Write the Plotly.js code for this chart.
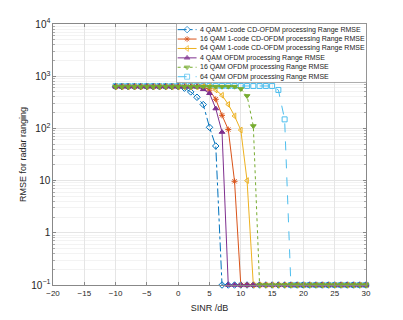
<!DOCTYPE html>
<html>
<head>
<meta charset="utf-8">
<script src="https://cdn.plot.ly/plotly-3.0.1.min.js"></script>
<style>
  html, body { margin: 0; padding: 0; background: #fff; }
  #chart { width: 403px; height: 320px; }
</style>
</head>
<body>
<div id="chart"></div>
<script>
// SINR axis, -10 .. 30 dB in 1 dB steps
var sinr = [];
for (var s = -10; s <= 30; s++) sinr.push(s);

var names = [
  '4 QAM 1-code CD-OFDM processing Range RMSE',
  '16 QAM 1-code CD-OFDM processing Range RMSE',
  '64 QAM 1-code CD-OFDM processing Range RMSE',
  '4 QAM OFDM processing Range RMSE',
  '16 QAM OFDM processing Range RMSE',
  '64 QAM OFDM processing Range RMSE'
];
var colors = ['#0072BD', '#D95319', '#EDB120', '#7E2F8E', '#77AC30', '#4DBEEE'];
var dashes = ['dashdot', 'solid', 'solid', 'solid', 'dot', 'dash'];
var symbols = ['diamond-open', 'asterisk-open', 'triangle-left-open', 'triangle-up', 'triangle-down', 'square-open'];

// values; 0.1 is the floor of the plot
var qam4cd  = [630,630,630,630,630,630,630,630,630,630,630, 590,500,395,286,105,46,
               0.1,0.1,0.1,0.1,0.1,0.1,0.1,0.1,0.1,0.1,0.1,0.1,0.1,0.1,0.1,0.1,0.1,0.1,0.1,0.1,0.1,0.1,0.1,0.1];
var qam16cd = [630,630,630,630,630,630,630,630,630,630,630,630,630,630,630, 540,361,178,95,9.7,
               0.1,0.1,0.1,0.1,0.1,0.1,0.1,0.1,0.1,0.1,0.1,0.1,0.1,0.1,0.1,0.1,0.1,0.1,0.1,0.1,0.1];
var qam64cd = [630,630,630,630,630,630,630,630,630,630,630,630,630,630,630,630, 545,431,288,173,93,10,
               0.1,0.1,0.1,0.1,0.1,0.1,0.1,0.1,0.1,0.1,0.1,0.1,0.1,0.1,0.1,0.1,0.1,0.1,0.1];
var qam4of  = [630,630,630,630,630,630,630,630,630,630,630,630,630,630, 560,471,240,85,
               0.1,0.1,0.1,0.1,0.1,0.1,0.1,0.1,0.1,0.1,0.1,0.1,0.1,0.1,0.1,0.1,0.1,0.1,0.1,0.1,0.1,0.1,0.1];
var qam16of = [630,630,630,630,630,630,630,630,630,630,630,630,630,630,630,630,630,630,630,630, 570,419,111,
               0.1,0.1,0.1,0.1,0.1,0.1,0.1,0.1,0.1,0.1,0.1,0.1,0.1,0.1,0.1,0.1,0.1,0.1];
var qam64of = [650,650,650,650,650,650,650,650,650,650,650,650,650,650,650,650,650,650,650,650,650,650,650,650,650,650, 545,149,
               0.1,0.1,0.1,0.1,0.1,0.1,0.1,0.1,0.1,0.1,0.1,0.1,0.1];
var series = [qam4cd, qam16cd, qam64cd, qam4of, qam16of, qam64of];

function tr(i) {
  return {
    x: sinr, y: series[i], name: names[i], type: 'scatter', mode: 'lines+markers',
    cliponaxis: false, showlegend: false,
    line: { color: colors[i], width: 1, dash: dashes[i] },
    marker: { symbol: symbols[i], size: 5, color: colors[i], line: { color: colors[i], width: 1 } }
  };
}

// draw order: light blue underneath, green on top (as in the picture)
var data = [tr(5), tr(0), tr(1), tr(2), tr(3), tr(4)];

// compact legend (Plotly's own legend rows are too tall for this size)
// drawn on a small helper subplot x2/y2: one row per series
var legW = 190;
data.push({
  x: [0, legW, legW, 0, 0], y: [-0.6, -0.6, 5.53, 5.53, -0.6],
  xaxis: 'x2', yaxis: 'y2', type: 'scatter', mode: 'lines', fill: 'toself',
  fillcolor: '#fff', line: { width: 0 }, showlegend: false, hoverinfo: 'skip'
});
var annotations = [];
names.forEach(function (n, i) {
  data.push({
    x: [1, 10.5, 20], y: [i, i, i], xaxis: 'x2', yaxis: 'y2',
    type: 'scatter', mode: 'lines+markers', showlegend: false, hoverinfo: 'skip',
    line: { color: colors[i], width: 1, dash: dashes[i] },
    marker: { symbol: symbols[i], size: [0, 5, 0], color: colors[i], line: { color: colors[i], width: 1 } }
  });
  annotations.push({
    xref: 'x2', yref: 'y2', x: 21.5, y: i, text: n, showarrow: false,
    xanchor: 'left', yanchor: 'middle', font: { size: 7, color: '#222' }
  });
});

var layout = {
  width: 403, height: 320,
  margin: { l: 53, r: 37, t: 24, b: 35 },
  paper_bgcolor: '#fff', plot_bgcolor: '#fff',
  font: { family: 'Liberation Sans, Arial, sans-serif', size: 8, color: '#262626' },
  showlegend: false,
  annotations: annotations,
  xaxis: {
    range: [-20, 30], dtick: 5, tick0: -20, domain: [0, 1],
    showgrid: true, gridcolor: '#e5e5e5', zeroline: false,
    showline: true, linecolor: '#888', linewidth: 1, mirror: 'ticks',
    ticks: 'inside', ticklen: 3, tickcolor: '#888',
    title: { text: 'SINR /dB', font: { size: 9 }, standoff: 8 }
  },
  yaxis: {
    type: 'log', range: [-1, 4], dtick: 1, exponentformat: 'power', domain: [0, 1],
    showgrid: true, gridcolor: '#e5e5e5', zeroline: false,
    showline: true, linecolor: '#888', linewidth: 1, mirror: 'ticks',
    ticks: 'inside', ticklen: 3, tickcolor: '#888',
    minor: { showgrid: true, gridcolor: '#f3f3f3', ticks: 'inside', ticklen: 2, tickcolor: '#aaa' },
    title: { text: 'RMSE for radar ranging', font: { size: 9 }, standoff: 3 }
  },
  xaxis2: {
    domain: [0.395, 1], anchor: 'y2', range: [0, legW],
    showgrid: false, zeroline: false, showticklabels: false, ticks: '',
    showline: true, mirror: true, linecolor: '#999', linewidth: 0.8
  },
  yaxis2: {
    domain: [0.779, 1], anchor: 'x2', range: [5.53, -0.6],
    showgrid: false, zeroline: false, showticklabels: false, ticks: '',
    showline: true, mirror: true, linecolor: '#999', linewidth: 0.8
  }
};

Plotly.newPlot('chart', data, layout, { staticPlot: true, displayModeBar: false });
</script>
</body>
</html>
